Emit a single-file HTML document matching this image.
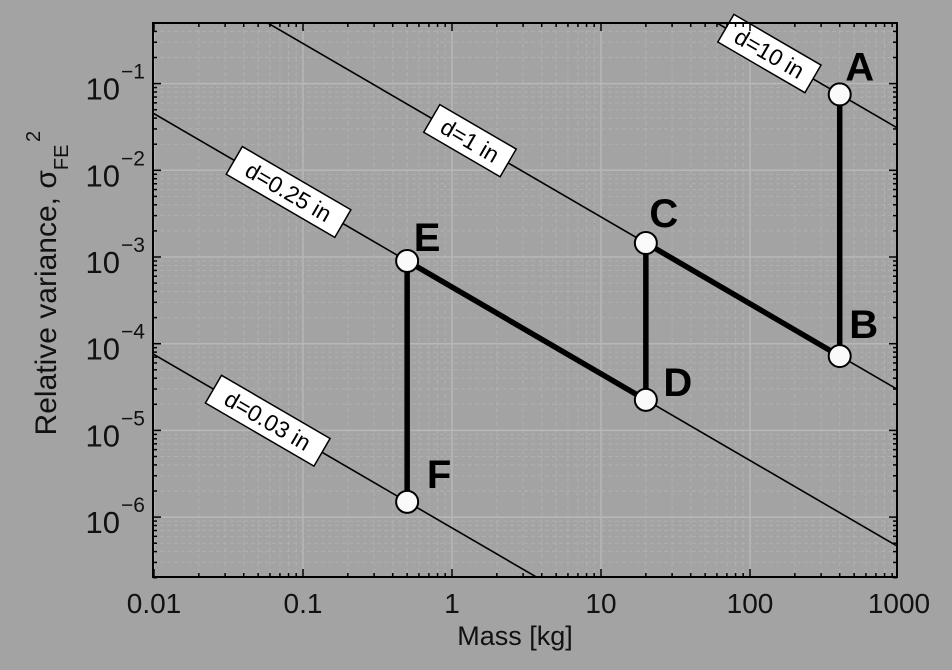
<!DOCTYPE html>
<html><head><meta charset="utf-8">
<style>
html,body{margin:0;padding:0;background:#a3a3a3;overflow:hidden;width:952px;height:670px;}
svg{display:block;font-family:"Liberation Sans",sans-serif;}
</style></head>
<body>
<svg id="chart" width="952" height="670" viewBox="0 0 952 670">
<rect width="952" height="670" fill="#a3a3a3"/>
<g id="grid"></g>
<g id="lines"></g>
<g id="path"></g>
<g id="axes"></g>
<text x="515" y="645" font-size="27" text-anchor="middle" fill="#111">Mass [kg]</text>
<g transform="translate(56,290) rotate(-90)">
<text x="0" y="0" font-size="30" text-anchor="middle" fill="#111">Relative variance, σ<tspan font-size="20" dy="12">FE</tspan></text>
<text x="148" y="-16" font-size="20" fill="#111">2</text>
</g>
</svg>
<script>
const xTicks=[0.01,0.1,1,10,100,1000];
const xTickLabels=["0.01","0.1","1","10","100","1000"];
const yTickExps=[-6,-5,-4,-3,-2,-1];
const lineLabels=["d=0.03 in","d=0.25 in","d=1 in","d=10 in"];
const lineK=[7.5e-7,4.5e-4,0.029,30];
const labelMass=[0.058,0.08,1.32,135];
const pointNames=["A","B","C","D","E","F"];
const pointMass=[400,400,20,20,0.5,0.5];
const pointVar=[0.075,7.2e-5,1.45e-3,2.25e-5,9e-4,1.5e-6];

const L=153,R=897,T=23,B=577;
const X0=452,XD=149,Y0=257,YD=86.7;
function xs(m){return X0+Math.log10(m)*XD;}
function ys(v){return Y0-(Math.log10(v)+3)*YD;}
const NS="http://www.w3.org/2000/svg";
function mk(t,a,p){const e=document.createElementNS(NS,t);for(const k in a)e.setAttribute(k,a[k]);p.appendChild(e);return e;}
const grid=document.getElementById('grid'),axes=document.getElementById('axes');
for(let e=-2;e<=3;e++)for(let k=1;k<10;k++){const x=xs(k*Math.pow(10,e));if(x<L||x>R)continue;
 const g=mk('line',{x1:x,x2:x,y1:T,y2:B,stroke:k==1?'#b8b8b8':'#b0b0b0','stroke-width':k==1?1.5:1,'stroke-dasharray':k==1?'':'4,3'},grid);
 }
for(let e=-7;e<=0;e++)for(let k=1;k<10;k++){const y=ys(k*Math.pow(10,e));if(y<T||y>B)continue;
 const g=mk('line',{x1:L,x2:R,y1:y,y2:y,stroke:k==1?'#b8b8b8':'#b0b0b0','stroke-width':k==1?1.5:1,'stroke-dasharray':k==1?'':'4,3'},grid);
 }
const lg=document.getElementById('lines');
const clip=mk('clipPath',{id:'pc'},mk('defs',{},document.getElementById('chart')));
mk('rect',{x:L,y:T,width:R-L,height:B-T},clip);
lineK.forEach((k,i)=>{
 const m1=1e-3,m2=1e4;
 const l=mk('line',{x1:xs(m1),y1:ys(k/m1),x2:xs(m2),y2:ys(k/m2),stroke:'#000','stroke-width':1.6,'clip-path':'url(#pc)'},lg);
 
 
 const cx=xs(labelMass[i]),cy=ys(k/labelMass[i]);
 const ang=Math.atan2(YD,XD)*180/Math.PI;
 const g=mk('g',{transform:`translate(${cx},${cy}) rotate(${ang})`},lg);
 
 
 const w=lineLabels[i].length*12.4+14;
 mk('rect',{x:-w/2,y:-16,width:w,height:32,fill:'#fff',stroke:'#000','stroke-width':1.5},g);
 const t=mk('text',{x:0,y:8,'font-size':23,'text-anchor':'middle',fill:'#000'},g);t.textContent=lineLabels[i];
});
const pg=document.getElementById('path');
for(let i=0;i<pointNames.length-1;i++){
 const s=mk('line',{x1:xs(pointMass[i]),y1:ys(pointVar[i]),x2:xs(pointMass[i+1]),y2:ys(pointVar[i+1]),stroke:'#000','stroke-width':5.5},pg);
 
 
}
const off={A:[20,-14],B:[24,-18],C:[18,-16],D:[32,-4],E:[20,-10],F:[32,-14]};
pointNames.forEach((n,i)=>{
 const x=xs(pointMass[i]),y=ys(pointVar[i]);
 const c=mk('circle',{cx:x,cy:y,r:11,fill:'#fafafa',stroke:'#000','stroke-width':2},pg);
 
 
 const t=mk('text',{x:x+off[n][0],y:y+off[n][1],'font-size':40,'font-weight':'bold','text-anchor':'middle',fill:'#000'},pg);
 t.textContent=n;
 
 
});
mk('rect',{x:L,y:T,width:R-L,height:B-T,fill:'none',stroke:'#000','stroke-width':2},axes);
for(let e=-2;e<=3;e++)for(let k=1;k<10;k++){const x=xs(k*Math.pow(10,e));if(x<L-1||x>R+1)continue;const len=k==1?8:4;
 mk('line',{x1:x,x2:x,y1:B,y2:B-len,stroke:'#000','stroke-width':1.5},axes);mk('line',{x1:x,x2:x,y1:T,y2:T+len,stroke:'#000','stroke-width':1.5},axes);}
for(let e=-7;e<=0;e++)for(let k=1;k<10;k++){const y=ys(k*Math.pow(10,e));if(y<T-1||y>B+1)continue;const len=k==1?8:4;
 mk('line',{x1:L,x2:L+len,y1:y,y2:y,stroke:'#000','stroke-width':1.5},axes);mk('line',{x1:R,x2:R-len,y1:y,y2:y,stroke:'#000','stroke-width':1.5},axes);}
xTicks.forEach((v,i)=>{
 const t=mk('text',{x:Math.min(xs(v),R+2),y:613,'font-size':28,'text-anchor':'middle',fill:'#111'},axes);
 t.textContent=xTickLabels[i];
 
 
});
yTickExps.forEach(e=>{
 const y=ys(Math.pow(10,e));
 const t=mk('text',{x:120,y:y+16,'font-size':31,'text-anchor':'end',fill:'#111'},axes);
 t.textContent='10';
 
 
 const s=mk('text',{x:121,y:y-5,'font-size':21,fill:'#111'},axes);
 s.textContent='−'+Math.abs(e);
});
</script>
</body></html>
